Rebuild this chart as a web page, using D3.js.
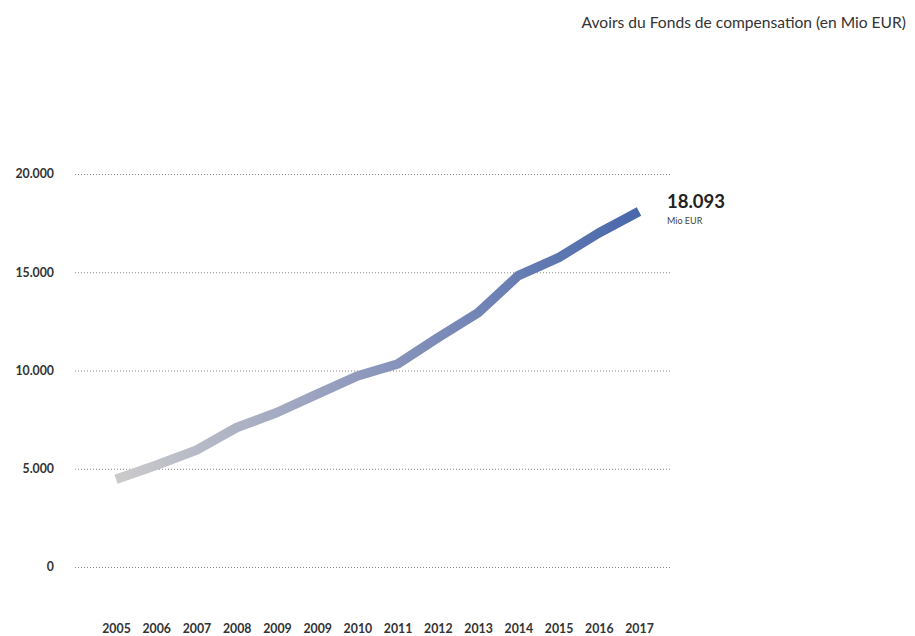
<!DOCTYPE html>
<html>
<head>
<meta charset="utf-8">
<script src="https://cdn.jsdelivr.net/npm/d3@7"></script>
<style>
  body { margin: 0; background: #fff; }
  svg { display: block; }
  text { font-family: "Source Sans Pro", Lato, "Noto Sans", sans-serif; }
</style>
</head>
<body>
<svg id="chart" width="915" height="636"></svg>
<script>
const yearLabels = ["2005","2006","2007","2008","2009","2009","2010","2011","2012","2013","2014","2015","2016","2017"];
const values = [4470, 5180, 5950, 7100, 7860, 8800, 9720, 10330, 11670, 12940, 14830, 15740, 17000, 18093];
const yTicks = [0, 5000, 10000, 15000, 20000];
const title = "Avoirs du Fonds de compensation (en Mio EUR)";
const lastValueLabel = "18.093";
const unitLabel = "Mio EUR";

const svg = d3.select("#chart");
const fmt = d3.formatLocale({decimal: ",", thousands: ".", grouping: [3], currency: ["", " €"]}).format(",d");

const x = d3.scaleLinear().domain([0, yearLabels.length - 1]).range([116, 639]);
const y = d3.scaleLinear().domain([0, 20000]).range([567, 174]);

// title
svg.append("text")
  .attr("x", 906).attr("y", 28)
  .attr("text-anchor", "end")
  .attr("font-size", 15.6)
  .attr("fill", "#333")
  .text(title);

// grid lines
const grid = svg.append("g")
  .attr("transform", "translate(75,0)")
  .call(d3.axisLeft(y).tickValues(yTicks).tickSize(-595).tickFormat(""));
grid.select(".domain").remove();
grid.selectAll("line").attr("stroke", "#888").attr("stroke-dasharray", "1,2").attr("stroke-width", 1);

// y axis labels
const yAxis = svg.append("g")
  .attr("transform", "translate(54,0)")
  .call(d3.axisLeft(y).tickValues(yTicks).tickSize(0).tickPadding(0).tickFormat(d => fmt(d)));
yAxis.select(".domain").remove();
yAxis.selectAll("text")
  .attr("font-size", 12.3).attr("font-weight", "bold").attr("fill", "#333")
  .style("font-family", "\"Source Sans Pro\", Lato, \"Noto Sans\", sans-serif");

// x axis labels
const xAxis = svg.append("g")
  .attr("transform", "translate(0,624)")
  .call(d3.axisBottom(x).tickValues(d3.range(yearLabels.length)).tickSize(0).tickPadding(0).tickFormat(i => yearLabels[i]));
xAxis.select(".domain").remove();
xAxis.selectAll("text")
  .attr("font-size", 12.3).attr("font-weight", "bold").attr("fill", "#333")
  .style("font-family", "\"Source Sans Pro\", Lato, \"Noto Sans\", sans-serif");

// gradient
const defs = svg.append("defs");
const grad = defs.append("linearGradient")
  .attr("id", "lineGrad")
  .attr("gradientUnits", "userSpaceOnUse")
  .attr("x1", x(0)).attr("x2", x(yearLabels.length - 1))
  .attr("y1", 0).attr("y2", 0);
grad.append("stop").attr("offset", "0%").attr("stop-color", "#cbcbcb");
grad.append("stop").attr("offset", "45%").attr("stop-color", "#929bbd");
grad.append("stop").attr("offset", "100%").attr("stop-color", "#4868ab");

const line = d3.line().x((d, i) => x(i)).y(d => y(d));
svg.append("path")
  .datum(values)
  .attr("d", line)
  .attr("fill", "none")
  .attr("stroke", "url(#lineGrad)")
  .attr("stroke-width", 9.5)
  .attr("stroke-linejoin", "round")
  .attr("stroke-linecap", "butt");

// end annotation
const lastI = values.length - 1;
svg.append("text")
  .attr("x", x(lastI) + 28).attr("y", y(values[lastI]) - 3)
  .attr("font-size", 18.5).attr("font-weight", "bold").attr("fill", "#222")
  .text(lastValueLabel);
svg.append("text")
  .attr("x", x(lastI) + 28).attr("y", y(values[lastI]) + 13)
  .attr("font-size", 9).attr("fill", "#444")
  .text(unitLabel);
</script>
</body>
</html>
